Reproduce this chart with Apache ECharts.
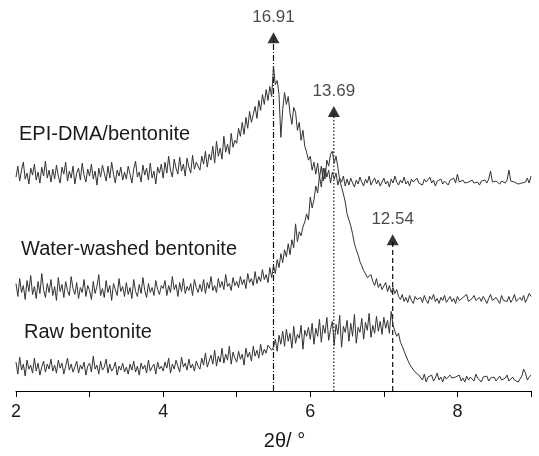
<!DOCTYPE html>
<html><head><meta charset="utf-8">
<script src="https://cdn.jsdelivr.net/npm/echarts@6/dist/echarts.min.js"></script>
<style>html,body{margin:0;padding:0;background:#fff}#c{width:539px;height:456px}</style>
</head><body><div id="c"></div>
<script>
// 2θ scan grid (degrees)
const twoTheta = [
2,2.025,2.05,2.075,2.1,2.125,2.15,2.175,2.2,2.225,2.25,2.275,2.3,2.325,2.35,2.375,2.4,2.425,2.45,2.475,
2.5,2.525,2.55,2.575,2.6,2.625,2.65,2.675,2.7,2.725,2.75,2.775,2.8,2.825,2.85,2.875,2.9,2.925,2.95,2.975,
3,3.025,3.05,3.075,3.1,3.125,3.15,3.175,3.2,3.225,3.25,3.275,3.3,3.325,3.35,3.375,3.4,3.425,3.45,3.475,
3.5,3.525,3.55,3.575,3.6,3.625,3.65,3.675,3.7,3.725,3.75,3.775,3.8,3.825,3.85,3.875,3.9,3.925,3.95,3.975,
4,4.025,4.05,4.075,4.1,4.125,4.15,4.175,4.2,4.225,4.25,4.275,4.3,4.325,4.35,4.375,4.4,4.425,4.45,4.475,
4.5,4.525,4.55,4.575,4.6,4.625,4.65,4.675,4.7,4.725,4.75,4.775,4.8,4.825,4.85,4.875,4.9,4.925,4.95,4.975,
5,5.025,5.05,5.075,5.1,5.125,5.15,5.175,5.2,5.225,5.25,5.275,5.3,5.325,5.35,5.375,5.4,5.425,5.45,5.475,
5.5,5.525,5.55,5.575,5.6,5.625,5.65,5.675,5.7,5.725,5.75,5.775,5.8,5.825,5.85,5.875,5.9,5.925,5.95,5.975,
6,6.025,6.05,6.075,6.1,6.125,6.15,6.175,6.2,6.225,6.25,6.275,6.3,6.325,6.35,6.375,6.4,6.425,6.45,6.475,
6.5,6.525,6.55,6.575,6.6,6.625,6.65,6.675,6.7,6.725,6.75,6.775,6.8,6.825,6.85,6.875,6.9,6.925,6.95,6.975,
7,7.025,7.05,7.075,7.1,7.125,7.15,7.175,7.2,7.225,7.25,7.275,7.3,7.325,7.35,7.375,7.4,7.425,7.45,7.475,
7.5,7.525,7.55,7.575,7.6,7.625,7.65,7.675,7.7,7.725,7.75,7.775,7.8,7.825,7.85,7.875,7.9,7.925,7.95,7.975,
8,8.025,8.05,8.075,8.1,8.125,8.15,8.175,8.2,8.225,8.25,8.275,8.3,8.325,8.35,8.375,8.4,8.425,8.45,8.475,
8.5,8.525,8.55,8.575,8.6,8.625,8.65,8.675,8.7,8.725,8.75,8.775,8.8,8.825,8.85,8.875,8.9,8.925,8.95,8.975,
9];

// intensities (a.u., traces offset vertically)
const epiDma = [
215,226,211,222,230,213,219,208,224,217,228,212,220,209,225,216,231,214,222,210,
223,213,227,216,209,225,218,230,211,221,214,226,208,219,224,212,229,217,210,223,
216,228,213,221,207,224,215,227,219,211,226,214,230,218,209,222,216,225,212,220,
213,226,218,209,223,231,215,220,210,227,217,224,212,229,214,221,208,225,219,228,
214,230,219,236,222,215,233,224,218,235,221,228,216,234,225,219,237,223,230,226,
222,236,228,241,225,238,232,246,229,251,236,244,233,256,240,248,238,259,245,252,
249,264,256,270,258,275,264,281,270,278,286,274,292,282,298,288,303,292,306,296,
326,308,312,298,255,283,300,288,296,279,268,285,280,262,270,252,262,246,240,232,
236,222,230,218,229,214,226,211,224,215,222,209,220,213,219,207,214,210,216,206,
213,207,214,209,205,212,208,215,210,206,213,209,216,207,211,214,208,212,206,210,
214,208,211,205,213,209,216,210,207,212,209,215,208,211,206,213,210,208,214,209,
211,207,213,210,208,215,209,212,206,211,210,213,208,211,209,207,212,210,214,209,
218,210,208,212,209,211,210,208,212,209,211,210,207,211,210,212,209,213,221,210,
209,211,210,208,211,210,209,212,222,211,209,210,211,208,210,209,211,210,214,209,
216];

const waterWashed = [
108,95,113,99,106,92,111,100,116,97,105,93,110,98,118,102,94,108,99,112,
96,105,91,114,100,107,94,110,101,96,115,103,97,109,93,104,99,112,95,106,
101,92,110,98,105,117,96,103,94,111,99,106,91,108,102,96,113,100,105,95,
109,97,104,93,112,100,95,107,98,114,101,94,108,99,104,96,111,102,97,106,
103,111,96,106,99,115,102,107,95,109,100,113,98,105,101,108,96,112,104,99,
107,100,112,98,109,103,115,101,106,99,113,104,110,102,117,105,108,101,114,106,
110,104,115,107,112,103,118,109,113,106,120,108,115,110,122,112,117,109,124,114,
126,118,132,124,138,129,142,135,148,137,152,144,168,150,160,156,165,170,178,172,
195,184,192,206,199,216,205,224,213,232,226,238,241,229,236,225,212,205,198,190,
178,172,166,158,148,142,137,130,126,121,118,114,112,117,110,106,113,104,108,102,
103,109,100,106,99,104,98,102,95,92,97,90,94,89,96,91,88,95,92,90,
94,89,96,91,88,95,92,97,90,93,88,94,91,96,89,92,95,90,93,88,
95,91,89,94,92,97,90,88,93,96,91,89,94,90,95,92,88,93,97,91,
89,94,92,88,96,91,93,90,95,89,92,97,90,88,94,91,96,89,93,98,
95];

const rawBentonite = [
29,17,34,21,27,15,31,22,26,18,33,20,28,16,24,30,19,27,22,32,
20,26,18,31,23,28,17,25,33,21,27,19,24,30,18,26,22,29,16,25,
28,19,35,22,26,17,30,21,24,32,18,27,20,23,29,16,25,21,28,19,
24,17,27,21,30,19,25,16,28,22,26,18,31,20,24,27,17,29,22,25,
20,29,23,33,18,27,22,31,25,19,34,24,28,21,32,23,27,20,30,25,
22,33,26,38,24,30,36,27,41,25,35,29,43,28,37,31,45,27,39,33,
29,40,32,37,26,43,34,39,30,45,35,41,33,47,36,42,38,46,48,41,
44,52,40,56,47,60,45,62,50,58,43,65,48,57,53,66,42,61,55,64,
52,68,47,63,55,72,49,66,58,74,51,62,70,46,67,57,76,44,65,59,
71,50,68,55,77,48,64,59,73,52,69,61,78,54,66,58,75,60,70,57,
74,63,71,58,80,66,60,55,58,49,45,40,38,31,27,24,22,19,18,16,
15,11,17,9,14,12,16,10,13,18,11,14,9,15,12,10,16,13,11,14,
12,16,10,13,9,15,11,14,12,10,17,13,11,9,14,12,15,10,13,11,
14,10,12,15,11,9,13,16,10,12,14,11,13,9,12,15,22,18,11,14,
16];

// reflections: position (2θ), marker height (a.u.), d-spacing label (Å)
const peakTheta = [5.50, 6.32, 7.12];
const peakTop = [355, 281, 152];
const peakLabels = ['16.91', '13.69', '12.54'];

const sampleNames = ['EPI-DMA/bentonite', 'Water-washed bentonite', 'Raw bentonite'];
const xTickLabels = [2, 4, 6, 8];

const FONT = '"Liberation Sans", Arial, sans-serif';
const dashStyles = [[6, 2, 1, 2], [1.5, 2], [5, 3]];
const nameTops = [124, 239, 322];
const nameLefts = [19, 21, 24];

const traceColor = '#333';
const traces = [epiDma, waterWashed, rawBentonite].map((arr, k) => ({
  type: 'line', name: sampleNames[k], showSymbol: false, silent: true,
  data: twoTheta.map((t, i) => [t, arr[i]]),
  lineStyle: { color: traceColor, width: 1 }, z: 3
}));

const markerLines = peakTheta.map((t, k) => ({
  type: 'line', showSymbol: false, silent: true,
  data: [[t, 0], [t, peakTop[k]]],
  lineStyle: { color: '#111', width: 1.2, type: dashStyles[k] }, z: 2
}));

const markerHeads = {
  type: 'scatter', symbol: 'triangle', symbolSize: [12, 11], silent: true,
  itemStyle: { color: '#000' },
  data: peakTheta.map((t, k) => [t, peakTop[k]]),
  label: {
    show: true, position: 'top', distance: 6,
    formatter: p => peakLabels[p.dataIndex],
    fontFamily: FONT, fontSize: 17, color: '#1a1a1a'
  }, z: 4
};

const chart = echarts.init(document.getElementById('c'), null, { renderer: 'canvas' });
chart.setOption({
  animation: false,
  backgroundColor: '#fff',
  grid: { left: 16, right: 8, top: 0, bottom: 63, containLabel: false },
  xAxis: {
    type: 'value', min: 2, max: 9, interval: 1,
    name: '2θ/ °', nameLocation: 'middle', nameGap: 40,
    nameTextStyle: { fontFamily: FONT, fontSize: 20, color: '#1a1a1a', padding: [0, 0, 0, 22] },
    axisLine: { lineStyle: { color: '#000', width: 1 } },
    axisTick: { show: true, inside: false, length: 6, lineStyle: { color: '#000' } },
    axisLabel: {
      fontFamily: FONT, fontSize: 18, color: '#1a1a1a', margin: 12,
      formatter: v => (xTickLabels.indexOf(v) >= 0 ? String(v) : '')
    },
    splitLine: { show: false }
  },
  yAxis: { type: 'value', min: 0, max: 393, show: false, splitLine: { show: false } },
  graphic: sampleNames.map((n, k) => ({
    type: 'text', left: nameLefts[k], top: nameTops[k],
    style: { text: n, font: '20px ' + FONT, fill: '#1a1a1a' }
  })),
  series: [...markerLines, ...traces, markerHeads]
});
</script></body></html>
